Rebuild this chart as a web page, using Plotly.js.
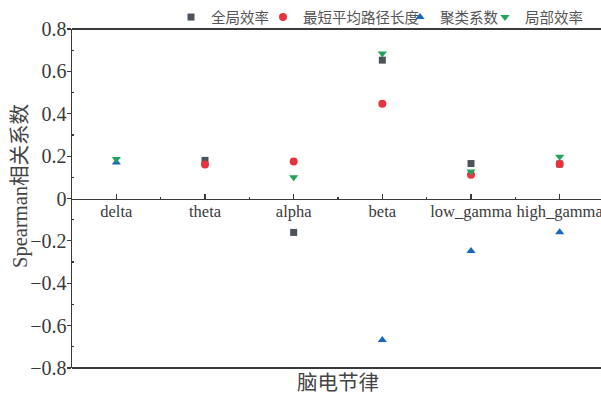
<!DOCTYPE html>
<html>
<head>
<meta charset="utf-8">
<script src="https://cdn.plot.ly/plotly-3.0.1.min.js"></script>
<style>
  html, body { margin: 0; padding: 0; overflow: hidden; background: #fff; }
  #chart { width: 606px; height: 396px; }
</style>
</head>
<body>
<div id="chart"></div>
<script>
// EEG rhythm bands on the x axis
const bands = ['delta', 'theta', 'alpha', 'beta', 'low_gamma', 'high_gamma'];

// Spearman correlation of each network metric with the band
const globalEff   = [null, 0.18, -0.16, 0.653, 0.165, 0.163];   // 全局效率
const shortPath   = [null, 0.16, 0.175, 0.447, 0.112, 0.163];   // 最短平均路径长度
const clustering  = [0.17, null, null, -0.668, -0.248, -0.159]; // 聚类系数
const localEff    = [0.186, null, 0.10, 0.684, 0.128, 0.197];   // 局部效率

const seriesNames = ['全局效率', '最短平均路径长度', '聚类系数', '局部效率'];
const yTickVals = [-0.8, -0.6, -0.4, -0.2, 0, 0.2, 0.4, 0.6, 0.8];

const bandIndex = bands.map((b, i) => i);

const latin = '"Liberation Serif", "Noto Sans CJK SC", serif';
const cjk = '"Noto Sans CJK SC", "Liberation Serif", sans-serif';

// plot area geometry (px) used to place the legend row
const plotLeft = 72, plotWidth = 532;
const legendLeftPx = [171, 263, 400, 485];
const legendNames = ['legend', 'legend2', 'legend3', 'legend4'];

function series(i, values, symbol, color, size) {
  return {
    type: 'scatter',
    mode: 'markers',
    name: seriesNames[i],
    legend: legendNames[i],
    x: bandIndex,
    y: values,
    marker: { symbol: symbol, color: color, size: size, line: { width: 0 } },
    hoverinfo: 'x+y+name'
  };
}

const traces = [
  series(0, globalEff, 'square', '#4b545d', 7),
  series(1, shortPath, 'circle', '#e8333f', 8),
  series(2, clustering, 'triangle-up', '#1767bf', 8),
  series(3, localEff, 'triangle-down', '#22a35b', 8)
];

const axisColor = '#3a3a3a';

function legendBox(i) {
  return {
    orientation: 'h',
    x: (legendLeftPx[i] - plotLeft) / plotWidth, xanchor: 'left',
    y: 1.032, yanchor: 'middle',
    font: { family: cjk, size: 14.5, color: '#555555' },
    bgcolor: 'rgba(0,0,0,0)',
    borderwidth: 0,
    itemwidth: 30
  };
}

const layout = {
  width: 606,
  height: 396,
  margin: { l: 72, r: 2, t: 28, b: 28 },
  paper_bgcolor: '#ffffff',
  plot_bgcolor: '#ffffff',
  showlegend: true,
  legend: legendBox(0),
  legend2: legendBox(1),
  legend3: legendBox(2),
  legend4: legendBox(3),
  xaxis: {
    type: 'linear',
    range: [-0.5, 5.5],
    tickmode: 'array',
    tickvals: bandIndex,
    ticktext: bands,
    anchor: 'free',
    position: 0.5,
    showline: true,
    linecolor: axisColor,
    linewidth: 1.5,
    showgrid: false,
    zeroline: false,
    ticks: 'inside',
    ticklen: 5,
    tickwidth: 1.2,
    tickcolor: axisColor,
    ticklabelstandoff: -3,
    tickfont: { family: latin, size: 16.5, color: '#3a3a3a' },
    minor: { tickmode: 'linear', tick0: 0.5, dtick: 1, ticks: 'inside', ticklen: 2, tickwidth: 1.2, tickcolor: axisColor, showgrid: false },
    title: { text: '' },
    fixedrange: true
  },
  yaxis: {
    range: [-0.8, 0.8],
    tickmode: 'array',
    tickvals: yTickVals,
    showline: true,
    linecolor: axisColor,
    linewidth: 1.5,
    showgrid: false,
    zeroline: false,
    ticks: 'outside',
    ticklen: 4,
    tickwidth: 1.2,
    tickcolor: axisColor,
    ticklabelstandoff: -4,
    tickfont: { family: latin, size: 20, color: '#3a3a3a' },
    minor: { tickmode: 'linear', tick0: 0.1, dtick: 0.2, ticks: 'inside', ticklen: 2, tickwidth: 1.2, tickcolor: axisColor, showgrid: false },
    title: { text: '' },
    fixedrange: true
  },
  shapes: [
    // top and bottom frame
    { type: 'line', xref: 'paper', yref: 'paper', x0: 0, x1: 1, y0: 1, y1: 1, line: { color: axisColor, width: 2 } },
    { type: 'line', xref: 'paper', yref: 'paper', x0: 0, x1: 1, y0: 0, y1: 0, line: { color: axisColor, width: 2 } }
  ],
  annotations: [
    {
      text: 'Spearman相关系数',
      xref: 'paper', yref: 'paper',
      x: -0.096, y: 0.537,
      xanchor: 'center', yanchor: 'middle',
      textangle: -90,
      showarrow: false,
      font: { family: latin, size: 20.5, color: '#444444' }
    },
    {
      text: '脑电节律',
      xref: 'paper', yref: 'paper',
      x: 0.5, y: -0.038,
      xanchor: 'center', yanchor: 'middle',
      showarrow: false,
      font: { family: cjk, size: 20.5, color: '#444444' }
    }
  ]
};

Plotly.newPlot('chart', traces, layout, { displayModeBar: false, staticPlot: true });
</script>
</body>
</html>
